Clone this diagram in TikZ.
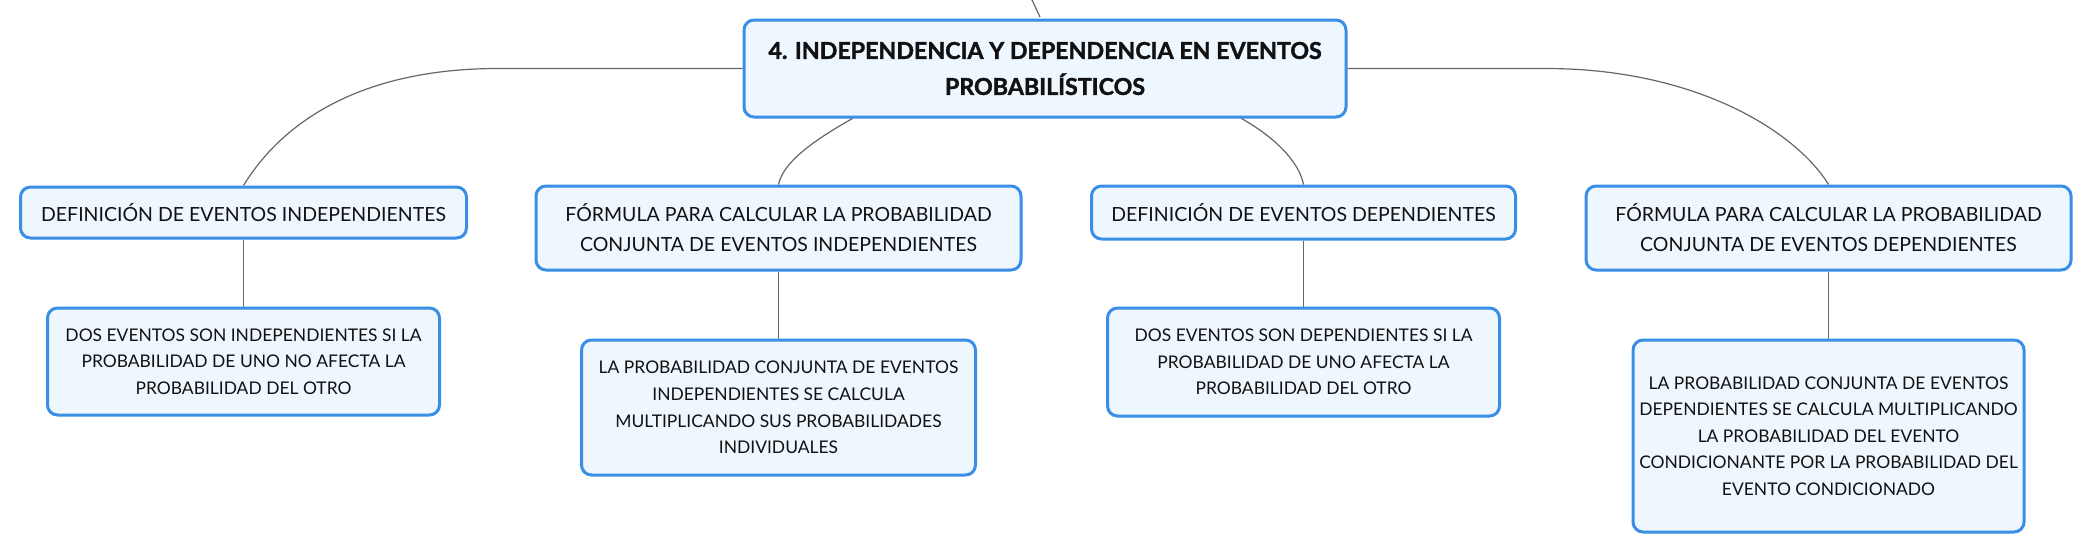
\documentclass[tikz,border=0pt]{standalone}
\usepackage{fontspec}
\setmainfont{Lato}
\newfontfamily\titlefont{Lato}[BoldFeatures={FakeBold=1.6}]
\usetikzlibrary{calc}
\definecolor{boxblue}{HTML}{3A8EE6}
\definecolor{boxfill}{HTML}{EEF6FE}
\definecolor{linkgray}{HTML}{666666}
\definecolor{txt}{HTML}{111111}
\tikzset{
  mmbox/.style={draw=boxblue, fill=boxfill, line width=1.5pt, rounded corners=5pt,
    inner sep=0pt, align=center, text=txt},
  titlebox/.style={mmbox, font=\titlefont\fontsize{11.6}{18}\selectfont\bfseries},
  lvlone/.style={mmbox, font=\fontsize{9.75}{15}\selectfont},
  lvltwo/.style={mmbox, font=\fontsize{8.72}{13.3}\selectfont},
  link/.style={draw=linkgray, line width=0.6pt},
}
\begin{document}
\begin{tikzpicture}[x=0.5pt,y=-0.5pt]
\useasboundingbox (0,0) rectangle (2091,552);
\node[titlebox, minimum width=602*0.5pt, minimum height=97*0.5pt] (main) at (1045,68.5)
  {4. INDEPENDENCIA Y DEPENDENCIA EN EVENTOS\\PROBABILÍSTICOS};
\node[lvlone, minimum width=446*0.5pt, minimum height=51*0.5pt] (d1) at (243.5,212.5)
  {DEFINICIÓN DE EVENTOS INDEPENDIENTES};
\node[lvlone, minimum width=485*0.5pt, minimum height=84*0.5pt] (f1) at (778.5,228)
  {FÓRMULA PARA CALCULAR LA PROBABILIDAD\\CONJUNTA DE EVENTOS INDEPENDIENTES};
\node[lvlone, minimum width=424*0.5pt, minimum height=53*0.5pt] (d2) at (1303.5,212.5)
  {DEFINICIÓN DE EVENTOS DEPENDIENTES};
\node[lvlone, minimum width=485*0.5pt, minimum height=84*0.5pt] (f2) at (1828.5,228)
  {FÓRMULA PARA CALCULAR LA PROBABILIDAD\\CONJUNTA DE EVENTOS DEPENDIENTES};
\node[lvltwo, minimum width=392*0.5pt, minimum height=107*0.5pt] (c1) at (243.5,361.5)
  {DOS EVENTOS SON INDEPENDIENTES SI LA\\PROBABILIDAD DE UNO NO AFECTA LA\\PROBABILIDAD DEL OTRO};
\node[lvltwo, minimum width=394*0.5pt, minimum height=135*0.5pt] (c2) at (778.5,407.5)
  {LA PROBABILIDAD CONJUNTA DE EVENTOS\\INDEPENDIENTES SE CALCULA\\MULTIPLICANDO SUS PROBABILIDADES\\INDIVIDUALES};
\node[lvltwo, minimum width=392*0.5pt, minimum height=108*0.5pt] (c3) at (1303.5,362)
  {DOS EVENTOS SON DEPENDIENTES SI LA\\PROBABILIDAD DE UNO AFECTA LA\\PROBABILIDAD DEL OTRO};
\node[lvltwo, minimum width=391*0.5pt, minimum height=192*0.5pt] (c4) at (1828.5,436)
  {LA PROBABILIDAD CONJUNTA DE EVENTOS\\DEPENDIENTES SE CALCULA MULTIPLICANDO\\LA PROBABILIDAD DEL EVENTO\\CONDICIONANTE POR LA PROBABILIDAD DEL\\EVENTO CONDICIONADO};
\coordinate (top) at (1032,0);
\draw[link] (top) -- ([xshift=-2.5pt,yshift=0.75pt]main.north);
\draw[link] (main.west) -- ($(main.west)+(-244,0)$)
  .. controls ($(main.west)+(-394,0)$) and ($(d1.north)+(33,-54)$) .. (d1.north);
\draw[link] (main.east) -- ($(main.east)+(198,0)$)
  .. controls ($(main.east)+(350,0)$) and ($(f2.north)+(-32,-52)$) .. (f2.north);
\draw[link] ($(main.south west)+(110,0)$)
  .. controls ($(main.south west)+(80,17)$) and ($(f1.north)+(5,-25)$) .. (f1.north);
\draw[link] ($(main.south east)+(-106,0)$)
  .. controls ($(main.south east)+(-76,17)$) and ($(d2.north)+(-5,-25)$) .. (d2.north);
\draw[link] (d1.south) -- (c1.north);
\draw[link] (f1.south) -- (c2.north);
\draw[link] (d2.south) -- (c3.north);
\draw[link] (f2.south) -- (c4.north);
\end{tikzpicture}
\end{document}
